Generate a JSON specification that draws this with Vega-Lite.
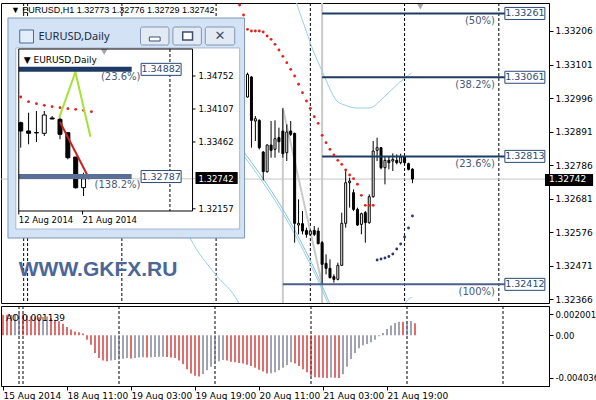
{
"$schema":"https://vega.github.io/schema/vega-lite/v6.json",
"background":"#ffffff",
"padding":{"left":0,"top":1,"right":0,"bottom":0},
"spacing":0,
"config":{
 "view":{"stroke":"#000000","strokeWidth":1},
 "axis":{"domainColor":"#000000","tickColor":"#000000","labelColor":"#000000","labelFont":"DejaVu Sans","labelFontSize":9,"grid":false,"tickSize":4,"labelPadding":2},
 "text":{"font":"DejaVu Sans","fontSize":9,"color":"#000000"}
},
"datasets":{
 "seps":[{"i":4},{"i":5},{"i":29},{"i":53},{"i":77},{"i":101},{"i":125}],
 "diag":[{"i":70,"p":1.32965},{"i":80,"p":1.32412}],
 "fib":[{"lab":"1.33261","lvl":"(50%)","p":1.33261,"i0":80},{"lab":"1.33061","lvl":"(38.2%)","p":1.33061,"i0":80},{"lab":"1.32813","lvl":"(23.6%)","p":1.32813,"i0":80},{"lab":"1.32412","lvl":"(100%)","p":1.32412,"i0":70}],
 "bands":[
  {"b":"U","i":72,"p":1.3336},{"b":"U","i":73.5,"p":1.332938},{"b":"U","i":75.5,"p":1.332217},{"b":"U","i":77.75,"p":1.331433},{"b":"U","i":80,"p":1.330806},{"b":"U","i":82,"p":1.330242},{"b":"U","i":83.75,"p":1.329866},{"b":"U","i":85.75,"p":1.329741},{"b":"U","i":88.75,"p":1.329647},{"b":"U","i":92,"p":1.329647},{"b":"U","i":95.75,"p":1.329992},{"b":"U","i":99.5,"p":1.33043},{"b":"U","i":102.75,"p":1.330744},
  {"b":"L1","i":55,"p":1.3291},{"b":"L1","i":59.5,"p":1.328362},{"b":"L1","i":64.5,"p":1.327516},{"b":"L1","i":69.5,"p":1.326576},{"b":"L1","i":74.5,"p":1.325479},{"b":"L1","i":80.25,"p":1.324006},{"b":"L1","i":83,"p":1.3232},
  {"b":"L2","i":55,"p":1.32898},{"b":"L2","i":59.5,"p":1.32824},{"b":"L2","i":64.5,"p":1.32739},{"b":"L2","i":69.5,"p":1.32645},{"b":"L2","i":74.5,"p":1.32535},{"b":"L2","i":80.25,"p":1.32388},{"b":"L2","i":82.5,"p":1.3232},
  {"b":"L0","i":44,"p":1.3262},{"b":"L0","i":46.5,"p":1.325541},{"b":"L0","i":52.75,"p":1.324444},{"b":"L0","i":58.75,"p":1.323535},{"b":"L0","i":60,"p":1.3232},
  {"b":"R","i":100,"p":1.3232},{"b":"R","i":101,"p":1.3235},{"b":"R","i":103,"p":1.32372}
 ],
 "candles":[
  {"i":61,"o":1.329991,"h":1.330754,"l":1.32997,"c":1.330701},
  {"i":62,"o":1.330618,"h":1.330649,"l":1.328403,"c":1.32926},
  {"i":63,"o":1.329239,"h":1.329396,"l":1.328612,"c":1.329312},
  {"i":64,"o":1.32926,"h":1.329291,"l":1.328351,"c":1.328403},
  {"i":65,"o":1.328267,"h":1.328299,"l":1.327379,"c":1.327651},
  {"i":66,"o":1.327651,"h":1.328508,"l":1.32762,"c":1.328487},
  {"i":67,"o":1.328487,"h":1.329239,"l":1.32809,"c":1.32832},
  {"i":68,"o":1.328351,"h":1.32926,"l":1.32809,"c":1.328685},
  {"i":69,"o":1.328717,"h":1.32903,"l":1.328246,"c":1.328591},
  {"i":70,"o":1.328925,"h":1.329636,"l":1.32809,"c":1.328215},
  {"i":71,"o":1.328246,"h":1.329134,"l":1.327985,"c":1.328894},
  {"i":72,"o":1.328925,"h":1.329239,"l":1.328769,"c":1.328821},
  {"i":73,"o":1.328852,"h":1.328873,"l":1.325426,"c":1.326032},
  {"i":74,"o":1.325979,"h":1.326784,"l":1.325687,"c":1.326032},
  {"i":75,"o":1.326021,"h":1.326418,"l":1.325687,"c":1.325791},
  {"i":76,"o":1.325812,"h":1.325896,"l":1.325582,"c":1.325687},
  {"i":77,"o":1.325687,"h":1.325844,"l":1.325635,"c":1.325791},
  {"i":78,"o":1.325812,"h":1.325948,"l":1.325635,"c":1.325687},
  {"i":79,"o":1.325791,"h":1.325896,"l":1.325373,"c":1.325394},
  {"i":80,"o":1.325426,"h":1.325478,"l":1.32412,"c":1.324747},
  {"i":81,"o":1.324778,"h":1.32506,"l":1.324433,"c":1.324621},
  {"i":82,"o":1.324621,"h":1.324903,"l":1.324308,"c":1.324329},
  {"i":83,"o":1.32436,"h":1.324433,"l":1.324172,"c":1.324277},
  {"i":84,"o":1.324277,"h":1.324799,"l":1.324245,"c":1.324715},
  {"i":85,"o":1.324715,"h":1.326366,"l":1.324694,"c":1.326032},
  {"i":86,"o":1.326032,"h":1.327672,"l":1.325896,"c":1.327306},
  {"i":87,"o":1.327306,"h":1.327463,"l":1.326523,"c":1.327358},
  {"i":88,"o":1.326993,"h":1.327097,"l":1.326418,"c":1.32647},
  {"i":89,"o":1.32647,"h":1.326523,"l":1.325948,"c":1.325979},
  {"i":90,"o":1.326,"h":1.326366,"l":1.325687,"c":1.326335},
  {"i":91,"o":1.326366,"h":1.326418,"l":1.325426,"c":1.326053},
  {"i":92,"o":1.326053,"h":1.326941,"l":1.326021,"c":1.326867},
  {"i":93,"o":1.326867,"h":1.328612,"l":1.326836,"c":1.328299},
  {"i":94,"o":1.32832,"h":1.328717,"l":1.327985,"c":1.328403},
  {"i":95,"o":1.328403,"h":1.328424,"l":1.327724,"c":1.327776},
  {"i":96,"o":1.327776,"h":1.328142,"l":1.327254,"c":1.328006},
  {"i":97,"o":1.328006,"h":1.328142,"l":1.327724,"c":1.327933},
  {"i":98,"o":1.327985,"h":1.328226,"l":1.327672,"c":1.328037},
  {"i":99,"o":1.328006,"h":1.328194,"l":1.327881,"c":1.327933},
  {"i":100,"o":1.327933,"h":1.328215,"l":1.327881,"c":1.328111},
  {"i":101,"o":1.328111,"h":1.328142,"l":1.327881,"c":1.327933},
  {"i":102,"o":1.327902,"h":1.327933,"l":1.327693,"c":1.327724},
  {"i":103,"o":1.32773,"h":1.32776,"l":1.32729,"c":1.32742}
 ],
 "sar":[
  {"i":59,"p":1.332875,"s":"dn"},{"i":60,"p":1.332561,"s":"dn"},{"i":61,"p":1.332113,"s":"dn"},{"i":62,"p":1.33206,"s":"dn"},{"i":63,"p":1.33206,"s":"dn"},{"i":64,"p":1.33206,"s":"dn"},{"i":65,"p":1.332029,"s":"dn"},{"i":66,"p":1.331903,"s":"dn"},{"i":67,"p":1.3318,"s":"dn"},{"i":68,"p":1.331643,"s":"dn"},{"i":69,"p":1.331465,"s":"dn"},{"i":70,"p":1.331267,"s":"dn"},{"i":71,"p":1.331067,"s":"dn"},{"i":72,"p":1.33086,"s":"dn"},{"i":73,"p":1.33065,"s":"dn"},{"i":74,"p":1.33039,"s":"dn"},{"i":75,"p":1.330126,"s":"dn"},{"i":76,"p":1.329866,"s":"dn"},{"i":77,"p":1.329637,"s":"dn"},{"i":78,"p":1.329374,"s":"dn"},{"i":79,"p":1.329167,"s":"dn"},{"i":80,"p":1.328791,"s":"dn"},{"i":81,"p":1.328559,"s":"dn"},{"i":82,"p":1.328352,"s":"dn"},{"i":83,"p":1.328174,"s":"dn"},{"i":84,"p":1.328008,"s":"dn"},{"i":85,"p":1.327882,"s":"dn"},{"i":86,"p":1.327704,"s":"dn"},{"i":87,"p":1.327547,"s":"dn"},{"i":88,"p":1.327431,"s":"dn"},{"i":89,"p":1.327256,"s":"dn"},{"i":90,"p":1.326911,"s":"dn"},{"i":91,"p":1.326597,"s":"dn"},{"i":92,"p":1.326597,"s":"dn"},{"i":93,"p":1.326597,"s":"dn"},
  {"i":94,"p":1.324883,"s":"up"},{"i":95,"p":1.324914,"s":"up"},{"i":96,"p":1.324946,"s":"up"},{"i":97,"p":1.324993,"s":"up"},{"i":98,"p":1.325071,"s":"up"},{"i":99,"p":1.325228,"s":"up"},{"i":100,"p":1.325385,"s":"up"},{"i":101,"p":1.325604,"s":"up"},{"i":102,"p":1.325886,"s":"up"},{"i":103,"p":1.326262,"s":"up"}
 ],
 "ao":[
  {"i":0,"v":0.00194,"d":"r"},{"i":1,"v":0.00192,"d":"r"},{"i":2,"v":0.0019,"d":"r"},{"i":3,"v":0.00195,"d":"g"},{"i":4,"v":0.002001,"d":"g"},{"i":5,"v":0.00197,"d":"r"},{"i":6,"v":0.00186,"d":"r"},{"i":7,"v":0.0018,"d":"r"},{"i":8,"v":0.00174,"d":"r"},{"i":9,"v":0.0017,"d":"r"},{"i":10,"v":0.00173,"d":"g"},{"i":11,"v":0.00176,"d":"g"},{"i":12,"v":0.0016,"d":"r"},{"i":13,"v":0.00147,"d":"r"},{"i":14,"v":0.00131,"d":"r"},{"i":15,"v":0.00109,"d":"r"},{"i":16,"v":0.00078,"d":"r"},{"i":17,"v":0.00053,"d":"r"},{"i":18,"v":0.00034,"d":"r"},{"i":19,"v":0.00028,"d":"r"},{"i":20,"v":0.00016,"d":"r"},
  {"i":21,"v":-0.00043,"d":"r"},{"i":22,"v":-0.00089,"d":"r"},{"i":23,"v":-0.00167,"d":"r"},{"i":24,"v":-0.00216,"d":"r"},{"i":25,"v":-0.00239,"d":"r"},{"i":26,"v":-0.00245,"d":"r"},{"i":27,"v":-0.00239,"d":"g"},{"i":28,"v":-0.00233,"d":"g"},{"i":29,"v":-0.00228,"d":"g"},{"i":30,"v":-0.00222,"d":"g"},{"i":31,"v":-0.00216,"d":"g"},{"i":32,"v":-0.00219,"d":"r"},{"i":33,"v":-0.00216,"d":"g"},{"i":34,"v":-0.0021,"d":"g"},{"i":35,"v":-0.00207,"d":"g"},{"i":36,"v":-0.0021,"d":"r"},{"i":37,"v":-0.00207,"d":"g"},{"i":38,"v":-0.00205,"d":"g"},{"i":39,"v":-0.00204,"d":"g"},{"i":40,"v":-0.00202,"d":"g"},
  {"i":41,"v":-0.00205,"d":"r"},{"i":42,"v":-0.0021,"d":"r"},{"i":43,"v":-0.00216,"d":"r"},{"i":44,"v":-0.00239,"d":"r"},{"i":45,"v":-0.00274,"d":"r"},{"i":46,"v":-0.0032,"d":"r"},{"i":47,"v":-0.0036,"d":"r"},{"i":48,"v":-0.00383,"d":"r"},{"i":49,"v":-0.00389,"d":"r"},{"i":50,"v":-0.00366,"d":"g"},{"i":51,"v":-0.00331,"d":"g"},{"i":52,"v":-0.00297,"d":"g"},{"i":53,"v":-0.00268,"d":"g"},{"i":54,"v":-0.00245,"d":"g"},{"i":55,"v":-0.00233,"d":"g"},{"i":56,"v":-0.00239,"d":"r"},{"i":57,"v":-0.00251,"d":"r"},{"i":58,"v":-0.00256,"d":"r"},{"i":59,"v":-0.00262,"d":"r"},{"i":60,"v":-0.00268,"d":"r"},
  {"i":61,"v":-0.00279,"d":"r"},{"i":62,"v":-0.00291,"d":"r"},{"i":63,"v":-0.00308,"d":"r"},{"i":64,"v":-0.00325,"d":"r"},{"i":65,"v":-0.00343,"d":"r"},{"i":66,"v":-0.0036,"d":"r"},{"i":67,"v":-0.00358,"d":"g"},{"i":68,"v":-0.00349,"d":"g"},{"i":69,"v":-0.00331,"d":"g"},{"i":70,"v":-0.00308,"d":"g"},{"i":71,"v":-0.00282,"d":"g"},{"i":72,"v":-0.00256,"d":"g"},{"i":73,"v":-0.00268,"d":"r"},{"i":74,"v":-0.00291,"d":"r"},{"i":75,"v":-0.0032,"d":"r"},{"i":76,"v":-0.00349,"d":"r"},{"i":77,"v":-0.00383,"d":"r"},{"i":78,"v":-0.00397,"d":"r"},{"i":79,"v":-0.004,"d":"r"},{"i":80,"v":-0.00402,"d":"r"},
  {"i":81,"v":-0.004036,"d":"r"},{"i":82,"v":-0.004,"d":"g"},{"i":83,"v":-0.00401,"d":"r"},{"i":84,"v":-0.00403,"d":"r"},{"i":85,"v":-0.00369,"d":"g"},{"i":86,"v":-0.00297,"d":"g"},{"i":87,"v":-0.00225,"d":"g"},{"i":88,"v":-0.00167,"d":"g"},{"i":89,"v":-0.00124,"d":"g"},{"i":90,"v":-0.00095,"d":"g"},{"i":91,"v":-0.00084,"d":"g"},{"i":92,"v":-0.00066,"d":"g"},{"i":93,"v":-0.00043,"d":"g"},{"i":94,"v":-0.00009,"d":"g"},{"i":95,"v":0.00022,"d":"g"},{"i":96,"v":0.00059,"d":"g"},{"i":97,"v":0.00091,"d":"g"},{"i":98,"v":0.00116,"d":"g"},{"i":99,"v":0.00128,"d":"g"},{"i":100,"v":0.00126,"d":"r"},{"i":101,"v":0.00131,"d":"g"},{"i":102,"v":0.00135,"d":"g"},{"i":103,"v":0.001139,"d":"r"}
 ],
 "icandles":[
  {"j":0,"o":1.338393,"h":1.3386,"l":1.333506,"c":1.33677},
  {"j":1,"o":1.33677,"h":1.340347,"l":1.334171,"c":1.336321},
  {"j":2,"o":1.336477,"h":1.340679,"l":1.33462,"c":1.336399},
  {"j":3,"o":1.336321,"h":1.340679,"l":1.335793,"c":1.339898},
  {"j":4,"o":1.339311,"h":1.339702,"l":1.339057,"c":1.339116},
  {"j":5,"o":1.339057,"h":1.33937,"l":1.335148,"c":1.336125},
  {"j":6,"o":1.336438,"h":1.336438,"l":1.331239,"c":1.331552},
  {"j":7,"o":1.331689,"h":1.331689,"l":1.325493,"c":1.325689},
  {"j":8,"o":1.325689,"h":1.32862,"l":1.324066,"c":1.32742}
 ],
 "isar":[{"j":0,"p":1.343416},{"j":1,"p":1.342497},{"j":2,"p":1.342106},{"j":3,"p":1.341793},{"j":4,"p":1.34152},{"j":5,"p":1.341324},{"j":6,"p":1.341129},{"j":7,"p":1.341012},{"j":8,"p":1.340816},{"j":9,"p":1.340542}],
 "ifib":[{"lab":"1.34882","lvl":"(23.6%)","p":1.34882},{"lab":"1.32787","lvl":"(138.2%)","p":1.32787}],
 "igreen":[{"j":4.9,"p":1.3394},{"j":6.96,"p":1.3483},{"j":8.875,"p":1.335656}],
 "ired":[{"j":5,"p":1.338529},{"j":8.75,"p":1.32733}],
 "iaxis":[{"p":1.34752,"t":"1.34752"},{"p":1.34107,"t":"1.34107"},{"p":1.33462,"t":"1.33462"},{"p":1.32157,"t":"1.32157"}],
 "idates":[{"j":-0.25,"t":"12 Aug 2014"},{"j":7.875,"t":"21 Aug 2014"}]
},
"vconcat":[
 {"width":548,"height":300,
  "resolve":{"scale":{"x":"independent","y":"independent"}},
  "layer":[
   {"layer":[
    {"data":{"name":"seps"},"mark":{"type":"rule","strokeDash":[3,2],"color":"#000000","strokeWidth":1},"encoding":{"x":{"field":"i","type":"quantitative","scale":{"domain":[-0.5,136.5],"nice":false,"zero":false},"axis":null}}},
    {"data":{"values":[{}]},"mark":{"type":"rule","color":"#c6c6c6","strokeWidth":1},"encoding":{"y":{"datum":1.32742,"type":"quantitative","scale":{"domain":[1.3235355,1.3329375],"nice":false,"zero":false},"axis":{"orient":"right","values":[1.33206,1.33101,1.32996,1.32891,1.32786,1.32681,1.32576,1.32471,1.32366],"format":".5f","title":null,"labelOverlap":false,"labelFlush":false,"labelBound":false}}}},
    {"data":{"values":[{}]},"mark":{"type":"rule","color":"#cacaca","strokeWidth":2},"encoding":{"x":{"datum":80,"type":"quantitative","scale":{"domain":[-0.5,136.5],"nice":false,"zero":false},"axis":null}}},
    {"data":{"values":[{}]},"mark":{"type":"rule","color":"#cacaca","strokeWidth":2},"encoding":{"x":{"datum":70,"type":"quantitative","scale":{"domain":[-0.5,136.5],"nice":false,"zero":false},"axis":null},"y":{"datum":1.32965,"type":"quantitative","scale":{"domain":[1.3235355,1.3329375],"nice":false,"zero":false},"axis":{"orient":"right","values":[1.33206,1.33101,1.32996,1.32891,1.32786,1.32681,1.32576,1.32471,1.32366],"format":".5f","title":null,"labelOverlap":false,"labelFlush":false,"labelBound":false}},"y2":{"datum":1.3235355}}},
    {"data":{"name":"diag"},"mark":{"type":"line","color":"#cacaca","strokeWidth":2},"encoding":{"x":{"field":"i","type":"quantitative","scale":{"domain":[-0.5,136.5],"nice":false,"zero":false},"axis":null},"y":{"field":"p","type":"quantitative","scale":{"domain":[1.3235355,1.3329375],"nice":false,"zero":false},"axis":{"orient":"right","values":[1.33206,1.33101,1.32996,1.32891,1.32786,1.32681,1.32576,1.32471,1.32366],"format":".5f","title":null,"labelOverlap":false,"labelFlush":false,"labelBound":false}}}},
    {"data":{"name":"bands"},"mark":{"type":"line","strokeWidth":1,"clip":true,"interpolate":"monotone"},"encoding":{"x":{"field":"i","type":"quantitative","scale":{"domain":[-0.5,136.5],"nice":false,"zero":false},"axis":null},"y":{"field":"p","type":"quantitative","scale":{"domain":[1.3235355,1.3329375],"nice":false,"zero":false},"axis":{"orient":"right","values":[1.33206,1.33101,1.32996,1.32891,1.32786,1.32681,1.32576,1.32471,1.32366],"format":".5f","title":null,"labelOverlap":false,"labelFlush":false,"labelBound":false}},"detail":{"field":"b","type":"nominal"},"color":{"condition":{"test":"datum.b=='L1'","value":"#86c0dc"},"value":"#97cfe7"}}},
    {"data":{"name":"candles"},"mark":{"type":"rule","color":"#000000","strokeWidth":1},"encoding":{"x":{"field":"i","type":"quantitative","scale":{"domain":[-0.5,136.5],"nice":false,"zero":false},"axis":null},"y":{"field":"l","type":"quantitative","scale":{"domain":[1.3235355,1.3329375],"nice":false,"zero":false},"axis":{"orient":"right","values":[1.33206,1.33101,1.32996,1.32891,1.32786,1.32681,1.32576,1.32471,1.32366],"format":".5f","title":null,"labelOverlap":false,"labelFlush":false,"labelBound":false}},"y2":{"field":"h"}}},
    {"data":{"name":"candles"},"mark":{"type":"bar","width":2,"stroke":"#000000","strokeWidth":1},"encoding":{"x":{"field":"i","type":"quantitative","scale":{"domain":[-0.5,136.5],"nice":false,"zero":false},"axis":null},"y":{"field":"o","type":"quantitative","scale":{"domain":[1.3235355,1.3329375],"nice":false,"zero":false},"axis":{"orient":"right","values":[1.33206,1.33101,1.32996,1.32891,1.32786,1.32681,1.32576,1.32471,1.32366],"format":".5f","title":null,"labelOverlap":false,"labelFlush":false,"labelBound":false}},"y2":{"field":"c"},"fill":{"condition":{"test":"datum.c >= datum.o","value":"#ffffff"},"value":"#000000"}}},
    {"data":{"name":"fib"},"mark":{"type":"rule","strokeWidth":2},"encoding":{"x":{"field":"i0","type":"quantitative","scale":{"domain":[-0.5,136.5],"nice":false,"zero":false},"axis":null},"x2":{"datum":126.75},"y":{"field":"p","type":"quantitative","scale":{"domain":[1.3235355,1.3329375],"nice":false,"zero":false},"axis":{"orient":"right","values":[1.33206,1.33101,1.32996,1.32891,1.32786,1.32681,1.32576,1.32471,1.32366],"format":".5f","title":null,"labelOverlap":false,"labelFlush":false,"labelBound":false}},"color":{"condition":{"test":"datum.lab=='1.32412'","value":"#4d5f8c"},"value":"#1d3c63"}}},
    {"data":{"name":"fib"},"mark":{"type":"point","shape":"M-1,-0.3H1V0.3H-1Z","size":1600,"filled":true,"fill":"#ffffff","stroke":"#2b4a75","strokeWidth":1,"opacity":1},"encoding":{"x":{"datum":131.625,"type":"quantitative","scale":{"domain":[-0.5,136.5],"nice":false,"zero":false},"axis":null},"y":{"field":"p","type":"quantitative","scale":{"domain":[1.3235355,1.3329375],"nice":false,"zero":false},"axis":{"orient":"right","values":[1.33206,1.33101,1.32996,1.32891,1.32786,1.32681,1.32576,1.32471,1.32366],"format":".5f","title":null,"labelOverlap":false,"labelFlush":false,"labelBound":false}}}},
    {"data":{"name":"fib"},"mark":{"type":"text","fontSize":9.5,"color":"#2b4a75","align":"center","baseline":"middle"},"encoding":{"x":{"datum":131.625,"type":"quantitative","scale":{"domain":[-0.5,136.5],"nice":false,"zero":false},"axis":null},"y":{"field":"p","type":"quantitative","scale":{"domain":[1.3235355,1.3329375],"nice":false,"zero":false},"axis":{"orient":"right","values":[1.33206,1.33101,1.32996,1.32891,1.32786,1.32681,1.32576,1.32471,1.32366],"format":".5f","title":null,"labelOverlap":false,"labelFlush":false,"labelBound":false}},"text":{"field":"lab"}}},
    {"data":{"name":"fib"},"mark":{"type":"text","fontSize":10,"color":"#4a5878","align":"right","baseline":"middle","dy":8},"encoding":{"x":{"datum":124,"type":"quantitative","scale":{"domain":[-0.5,136.5],"nice":false,"zero":false},"axis":null},"y":{"field":"p","type":"quantitative","scale":{"domain":[1.3235355,1.3329375],"nice":false,"zero":false},"axis":{"orient":"right","values":[1.33206,1.33101,1.32996,1.32891,1.32786,1.32681,1.32576,1.32471,1.32366],"format":".5f","title":null,"labelOverlap":false,"labelFlush":false,"labelBound":false}},"text":{"field":"lvl"}}},
    {"data":{"name":"sar"},"mark":{"type":"point","filled":true,"size":8,"opacity":1},"encoding":{"x":{"field":"i","type":"quantitative","scale":{"domain":[-0.5,136.5],"nice":false,"zero":false},"axis":null},"y":{"field":"p","type":"quantitative","scale":{"domain":[1.3235355,1.3329375],"nice":false,"zero":false},"axis":{"orient":"right","values":[1.33206,1.33101,1.32996,1.32891,1.32786,1.32681,1.32576,1.32471,1.32366],"format":".5f","title":null,"labelOverlap":false,"labelFlush":false,"labelBound":false}},"color":{"condition":{"test":"datum.s=='up'","value":"#2b3868"},"value":"#e3211b"}}},
    {"data":{"values":[{}]},"mark":{"type":"text","text":"WWW.GKFX.RU","font":"Liberation Sans","fontSize":21,"fontWeight":"bold","color":"#4d6699","align":"left","baseline":"alphabetic"},"encoding":{"x":{"datum":2.75,"type":"quantitative","scale":{"domain":[-0.5,136.5],"nice":false,"zero":false},"axis":null},"y":{"datum":1.324382,"type":"quantitative","scale":{"domain":[1.3235355,1.3329375],"nice":false,"zero":false},"axis":{"orient":"right","values":[1.33206,1.33101,1.32996,1.32891,1.32786,1.32681,1.32576,1.32471,1.32366],"format":".5f","title":null,"labelOverlap":false,"labelFlush":false,"labelBound":false}}}},
    {"data":{"values":[{}]},"mark":{"type":"text","text":"▼ EURUSD,H1  1.32773 1.32776 1.32729 1.32742","font":"Liberation Sans","fontSize":9,"align":"left","baseline":"middle"},"encoding":{"x":{"datum":0.75,"type":"quantitative","scale":{"domain":[-0.5,136.5],"nice":false,"zero":false},"axis":null},"y":{"datum":1.332718,"type":"quantitative","scale":{"domain":[1.3235355,1.3329375],"nice":false,"zero":false},"axis":{"orient":"right","values":[1.33206,1.33101,1.32996,1.32891,1.32786,1.32681,1.32576,1.32471,1.32366],"format":".5f","title":null,"labelOverlap":false,"labelFlush":false,"labelBound":false}}}},
    {"data":{"values":[{}]},"mark":{"type":"point","shape":"triangle-down","filled":true,"color":"#a8a8a8","size":40,"opacity":1},"encoding":{"x":{"datum":105,"type":"quantitative","scale":{"domain":[-0.5,136.5],"nice":false,"zero":false},"axis":null},"y":{"datum":1.332818,"type":"quantitative","scale":{"domain":[1.3235355,1.3329375],"nice":false,"zero":false},"axis":{"orient":"right","values":[1.33206,1.33101,1.32996,1.32891,1.32786,1.32681,1.32576,1.32471,1.32366],"format":".5f","title":null,"labelOverlap":false,"labelFlush":false,"labelBound":false}}}},
    {"data":{"values":[{}]},"mark":{"type":"rect","color":"#000000"},"encoding":{"x":{"datum":136.75,"type":"quantitative","scale":{"domain":[-0.5,136.5],"nice":false,"zero":false},"axis":null},"x2":{"datum":149},"y":{"datum":1.32758,"type":"quantitative","scale":{"domain":[1.3235355,1.3329375],"nice":false,"zero":false},"axis":{"orient":"right","values":[1.33206,1.33101,1.32996,1.32891,1.32786,1.32681,1.32576,1.32471,1.32366],"format":".5f","title":null,"labelOverlap":false,"labelFlush":false,"labelBound":false}},"y2":{"datum":1.3272}}},
    {"data":{"values":[{}]},"mark":{"type":"text","text":"1.32742","color":"#ffffff","fontSize":9,"align":"left","baseline":"middle"},"encoding":{"x":{"datum":137.75,"type":"quantitative","scale":{"domain":[-0.5,136.5],"nice":false,"zero":false},"axis":null},"y":{"datum":1.32742,"type":"quantitative","scale":{"domain":[1.3235355,1.3329375],"nice":false,"zero":false},"axis":{"orient":"right","values":[1.33206,1.33101,1.32996,1.32891,1.32786,1.32681,1.32576,1.32471,1.32366],"format":".5f","title":null,"labelOverlap":false,"labelFlush":false,"labelBound":false}}}}
   ]},
   {"layer":[
    {"data":{"values":[{}]},"mark":{"type":"rect","fill":"#d3e2f4","stroke":"#7c95b6","strokeWidth":1},"encoding":{"x":{"datum":-1.625,"type":"quantitative","scale":{"domain":[-1.875,66.625],"nice":false,"zero":false},"axis":null},"x2":{"datum":28.5},"y":{"datum":1.358856,"type":"quantitative","scale":{"domain":[1.303153,1.361788],"nice":false,"zero":false},"axis":null},"y2":{"datum":1.315857}}},
    {"data":{"values":[{}]},"mark":{"type":"rect","fill":"#ffffff","stroke":"#a7b8d0","strokeWidth":1},"encoding":{"x":{"datum":-0.625,"type":"quantitative","scale":{"domain":[-1.875,66.625],"nice":false,"zero":false},"axis":null},"x2":{"datum":27.875},"y":{"datum":1.353,"type":"quantitative","scale":{"domain":[1.303153,1.361788],"nice":false,"zero":false},"axis":null},"y2":{"datum":1.317616}}},
    {"data":{"values":[{}]},"mark":{"type":"rect","fill":"#e4eefa","stroke":"#4a6a9a","strokeWidth":1},"encoding":{"x":{"datum":-0.125,"type":"quantitative","scale":{"domain":[-1.875,66.625],"nice":false,"zero":false},"axis":null},"x2":{"datum":1.625},"y":{"datum":1.356511,"type":"quantitative","scale":{"domain":[1.303153,1.361788],"nice":false,"zero":false},"axis":null},"y2":{"datum":1.35397}}},
    {"data":{"values":[{}]},"mark":{"type":"text","text":"EURUSD,Daily","font":"Noto Sans","fontSize":11,"color":"#1a2b45","align":"left","baseline":"middle"},"encoding":{"x":{"datum":2.25,"type":"quantitative","scale":{"domain":[-1.875,66.625],"nice":false,"zero":false},"axis":null},"y":{"datum":1.355143,"type":"quantitative","scale":{"domain":[1.303153,1.361788],"nice":false,"zero":false},"axis":null}}},
    {"data":{"values":[{}]},"mark":{"type":"rect","fill":"#e2eaf4","stroke":"#8294b0","strokeWidth":1,"cornerRadius":2},"encoding":{"x":{"datum":15.25,"type":"quantitative","scale":{"domain":[-1.875,66.625],"nice":false,"zero":false},"axis":null},"x2":{"datum":18.875},"y":{"datum":1.357097,"type":"quantitative","scale":{"domain":[1.303153,1.361788],"nice":false,"zero":false},"axis":null},"y2":{"datum":1.353579}}},
    {"data":{"values":[{}]},"mark":{"type":"rect","fill":"#e2eaf4","stroke":"#8294b0","strokeWidth":1,"cornerRadius":2},"encoding":{"x":{"datum":19.375,"type":"quantitative","scale":{"domain":[-1.875,66.625],"nice":false,"zero":false},"axis":null},"x2":{"datum":23},"y":{"datum":1.357097,"type":"quantitative","scale":{"domain":[1.303153,1.361788],"nice":false,"zero":false},"axis":null},"y2":{"datum":1.353579}}},
    {"data":{"values":[{}]},"mark":{"type":"rect","fill":"#e2eaf4","stroke":"#8294b0","strokeWidth":1,"cornerRadius":2},"encoding":{"x":{"datum":23.5,"type":"quantitative","scale":{"domain":[-1.875,66.625],"nice":false,"zero":false},"axis":null},"x2":{"datum":27.25},"y":{"datum":1.357097,"type":"quantitative","scale":{"domain":[1.303153,1.361788],"nice":false,"zero":false},"axis":null},"y2":{"datum":1.353579}}},
    {"data":{"values":[{}]},"mark":{"type":"rect","fill":"#ffffff","stroke":"#3d4f6e","strokeWidth":1},"encoding":{"x":{"datum":16.375,"type":"quantitative","scale":{"domain":[-1.875,66.625],"nice":false,"zero":false},"axis":null},"x2":{"datum":17.75},"y":{"datum":1.355143,"type":"quantitative","scale":{"domain":[1.303153,1.361788],"nice":false,"zero":false},"axis":null},"y2":{"datum":1.354361}}},
    {"data":{"values":[{}]},"mark":{"type":"rect","fill":"#ffffff","stroke":"#3d4f6e","strokeWidth":1.5},"encoding":{"x":{"datum":20.625,"type":"quantitative","scale":{"domain":[-1.875,66.625],"nice":false,"zero":false},"axis":null},"x2":{"datum":21.875},"y":{"datum":1.35612,"type":"quantitative","scale":{"domain":[1.303153,1.361788],"nice":false,"zero":false},"axis":null},"y2":{"datum":1.354556}}},
    {"data":{"values":[{}]},"mark":{"type":"text","text":"✕","fontSize":13,"color":"#3d4f6e","align":"center","baseline":"middle"},"encoding":{"x":{"datum":25.375,"type":"quantitative","scale":{"domain":[-1.875,66.625],"nice":false,"zero":false},"axis":null},"y":{"datum":1.355338,"type":"quantitative","scale":{"domain":[1.303153,1.361788],"nice":false,"zero":false},"axis":null}}},
    {"data":{"values":[{}]},"mark":{"type":"rule","color":"#c6c6c6","strokeWidth":1},"encoding":{"x":{"datum":-0.25,"type":"quantitative","scale":{"domain":[-1.875,66.625],"nice":false,"zero":false},"axis":null},"x2":{"datum":22.25},"y":{"datum":1.32742,"type":"quantitative","scale":{"domain":[1.303153,1.361788],"nice":false,"zero":false},"axis":null}}},
    {"data":{"values":[{}]},"mark":{"type":"rule","color":"#000000","strokeWidth":1,"strokeDash":[3,2]},"encoding":{"x":{"datum":19,"type":"quantitative","scale":{"domain":[-1.875,66.625],"nice":false,"zero":false},"axis":null},"y":{"datum":1.352797,"type":"quantitative","scale":{"domain":[1.303153,1.361788],"nice":false,"zero":false},"axis":null},"y2":{"datum":1.321134}}},
    {"data":{"name":"isar"},"mark":{"type":"point","filled":true,"size":8,"opacity":1,"color":"#e3211b"},"encoding":{"x":{"field":"j","type":"quantitative","scale":{"domain":[-1.875,66.625],"nice":false,"zero":false},"axis":null},"y":{"field":"p","type":"quantitative","scale":{"domain":[1.303153,1.361788],"nice":false,"zero":false},"axis":null}}},
    {"data":{"name":"igreen"},"mark":{"type":"line","color":"#a4e234","strokeWidth":2},"encoding":{"x":{"field":"j","type":"quantitative","scale":{"domain":[-1.875,66.625],"nice":false,"zero":false},"axis":null},"y":{"field":"p","type":"quantitative","scale":{"domain":[1.303153,1.361788],"nice":false,"zero":false},"axis":null}}},
    {"data":{"name":"icandles"},"mark":{"type":"rule","color":"#000000","strokeWidth":1},"encoding":{"x":{"field":"j","type":"quantitative","scale":{"domain":[-1.875,66.625],"nice":false,"zero":false},"axis":null},"y":{"field":"l","type":"quantitative","scale":{"domain":[1.303153,1.361788],"nice":false,"zero":false},"axis":null},"y2":{"field":"h"}}},
    {"data":{"name":"icandles"},"mark":{"type":"bar","width":4,"stroke":"#000000","strokeWidth":1},"encoding":{"x":{"field":"j","type":"quantitative","scale":{"domain":[-1.875,66.625],"nice":false,"zero":false},"axis":null},"y":{"field":"o","type":"quantitative","scale":{"domain":[1.303153,1.361788],"nice":false,"zero":false},"axis":null},"y2":{"field":"c"},"fill":{"condition":{"test":"datum.c >= datum.o","value":"#ffffff"},"value":"#000000"}}},
    {"data":{"name":"ired"},"mark":{"type":"line","color":"#cc1f1f","strokeWidth":2},"encoding":{"x":{"field":"j","type":"quantitative","scale":{"domain":[-1.875,66.625],"nice":false,"zero":false},"axis":null},"y":{"field":"p","type":"quantitative","scale":{"domain":[1.303153,1.361788],"nice":false,"zero":false},"axis":null}}},
    {"data":{"name":"ifib"},"mark":{"type":"rule","strokeWidth":5},"encoding":{"x":{"datum":-0.25,"type":"quantitative","scale":{"domain":[-1.875,66.625],"nice":false,"zero":false},"axis":null},"x2":{"datum":14.125},"y":{"field":"p","type":"quantitative","scale":{"domain":[1.303153,1.361788],"nice":false,"zero":false},"axis":null},"color":{"condition":{"test":"datum.lab=='1.32787'","value":"#5b6e98"},"value":"#1e3b66"}}},
    {"data":{"name":"ifib"},"mark":{"type":"point","shape":"M-1,-0.3H1V0.3H-1Z","size":1600,"filled":true,"fill":"#ffffff","stroke":"#2b4a75","strokeWidth":1,"opacity":1},"encoding":{"x":{"datum":17.875,"type":"quantitative","scale":{"domain":[-1.875,66.625],"nice":false,"zero":false},"axis":null},"y":{"field":"p","type":"quantitative","scale":{"domain":[1.303153,1.361788],"nice":false,"zero":false},"axis":null}}},
    {"data":{"name":"ifib"},"mark":{"type":"text","fontSize":9.5,"color":"#2b4a75","align":"center","baseline":"middle"},"encoding":{"x":{"datum":17.875,"type":"quantitative","scale":{"domain":[-1.875,66.625],"nice":false,"zero":false},"axis":null},"y":{"field":"p","type":"quantitative","scale":{"domain":[1.303153,1.361788],"nice":false,"zero":false},"axis":null},"text":{"field":"lab"}}},
    {"data":{"name":"ifib"},"mark":{"type":"text","fontSize":10,"color":"#4a5878","align":"right","baseline":"middle","dy":8},"encoding":{"x":{"datum":15.25,"type":"quantitative","scale":{"domain":[-1.875,66.625],"nice":false,"zero":false},"axis":null},"y":{"field":"p","type":"quantitative","scale":{"domain":[1.303153,1.361788],"nice":false,"zero":false},"axis":null},"text":{"field":"lvl"}}},
    {"data":{"name":"iaxis"},"mark":{"type":"rule","color":"#000000","strokeWidth":1},"encoding":{"x":{"datum":21.875,"type":"quantitative","scale":{"domain":[-1.875,66.625],"nice":false,"zero":false},"axis":null},"x2":{"datum":22.25},"y":{"field":"p","type":"quantitative","scale":{"domain":[1.303153,1.361788],"nice":false,"zero":false},"axis":null}}},
    {"data":{"name":"iaxis"},"mark":{"type":"text","fontSize":8.5,"align":"left","baseline":"middle"},"encoding":{"x":{"datum":22.625,"type":"quantitative","scale":{"domain":[-1.875,66.625],"nice":false,"zero":false},"axis":null},"y":{"field":"p","type":"quantitative","scale":{"domain":[1.303153,1.361788],"nice":false,"zero":false},"axis":null},"text":{"field":"t"}}},
    {"data":{"values":[{}]},"mark":{"type":"rect","color":"#000000"},"encoding":{"x":{"datum":22.25,"type":"quantitative","scale":{"domain":[-1.875,66.625],"nice":false,"zero":false},"axis":null},"x2":{"datum":27.625},"y":{"datum":1.328757,"type":"quantitative","scale":{"domain":[1.303153,1.361788],"nice":false,"zero":false},"axis":null},"y2":{"datum":1.326411}}},
    {"data":{"values":[{}]},"mark":{"type":"text","text":"1.32742","color":"#ffffff","fontSize":8.5,"align":"left","baseline":"middle"},"encoding":{"x":{"datum":22.625,"type":"quantitative","scale":{"domain":[-1.875,66.625],"nice":false,"zero":false},"axis":null},"y":{"datum":1.32742,"type":"quantitative","scale":{"domain":[1.303153,1.361788],"nice":false,"zero":false},"axis":null}}},
    {"data":{"name":"idates"},"mark":{"type":"rule","color":"#000000","strokeWidth":1},"encoding":{"x":{"field":"j","type":"quantitative","scale":{"domain":[-1.875,66.625],"nice":false,"zero":false},"axis":null},"y":{"datum":1.321134,"type":"quantitative","scale":{"domain":[1.303153,1.361788],"nice":false,"zero":false},"axis":null},"y2":{"datum":1.32045}}},
    {"data":{"name":"idates"},"mark":{"type":"text","fontSize":8.5,"align":"left","baseline":"middle"},"encoding":{"x":{"field":"j","type":"quantitative","scale":{"domain":[-1.875,66.625],"nice":false,"zero":false},"axis":null},"y":{"datum":1.319375,"type":"quantitative","scale":{"domain":[1.303153,1.361788],"nice":false,"zero":false},"axis":null},"text":{"field":"t"}}},
    {"data":{"values":[{}]},"mark":{"type":"text","text":"▼ EURUSD,Daily","fontSize":9,"align":"left","baseline":"middle"},"encoding":{"x":{"datum":0.375,"type":"quantitative","scale":{"domain":[-1.875,66.625],"nice":false,"zero":false},"axis":null},"y":{"datum":1.350647,"type":"quantitative","scale":{"domain":[1.303153,1.361788],"nice":false,"zero":false},"axis":null}}},
    {"data":{"values":[{}]},"mark":{"type":"point","shape":"triangle-down","filled":true,"color":"#a8a8a8","size":45,"opacity":1},"encoding":{"x":{"datum":10.625,"type":"quantitative","scale":{"domain":[-1.875,66.625],"nice":false,"zero":false},"axis":null},"y":{"datum":1.352211,"type":"quantitative","scale":{"domain":[1.303153,1.361788],"nice":false,"zero":false},"axis":null}}},
    {"data":{"values":[{}]},"mark":{"type":"rect","fill":"transparent","stroke":"#000000","strokeWidth":1},"encoding":{"x":{"datum":-0.25,"type":"quantitative","scale":{"domain":[-1.875,66.625],"nice":false,"zero":false},"axis":null},"x2":{"datum":21.875},"y":{"datum":1.352797,"type":"quantitative","scale":{"domain":[1.303153,1.361788],"nice":false,"zero":false},"axis":null},"y2":{"datum":1.321134}}}
   ]}
  ]
 },
 {"width":548,"height":80,
  "layer":[
   {"data":{"name":"seps"},"mark":{"type":"rule","strokeDash":[3,2],"color":"#000000","strokeWidth":1},"encoding":{"x":{"field":"i","type":"quantitative","scale":{"domain":[-0.5,136.5],"nice":false,"zero":false},"axis":{"values":[0,16,32,48,64,80,96],"labelExpr":"datum.value==0?'15 Aug 2014':datum.value==16?'18 Aug 11:00':datum.value==32?'19 Aug 03:00':datum.value==48?'19 Aug 19:00':datum.value==64?'20 Aug 11:00':datum.value==80?'21 Aug 03:00':'21 Aug 19:00'","labelAlign":"left","labelFlush":false,"labelOverlap":false,"labelBound":false,"labelPadding":1,"tickSize":4,"title":null}}}},
   {"data":{"name":"ao"},"mark":{"type":"rule","strokeWidth":1.3},"encoding":{"x":{"field":"i","type":"quantitative","scale":{"domain":[-0.5,136.5],"nice":false,"zero":false},"axis":{"values":[0,16,32,48,64,80,96],"labelExpr":"datum.value==0?'15 Aug 2014':datum.value==16?'18 Aug 11:00':datum.value==32?'19 Aug 03:00':datum.value==48?'19 Aug 19:00':datum.value==64?'20 Aug 11:00':datum.value==80?'21 Aug 03:00':'21 Aug 19:00'","labelAlign":"left","labelFlush":false,"labelOverlap":false,"labelBound":false,"labelPadding":1,"tickSize":4,"title":null}},"y":{"field":"v","type":"quantitative","scale":{"domain":[-0.004791,0.002756],"nice":false,"zero":false},"axis":{"orient":"right","values":[0.002001,0,-0.004036],"labelExpr":"datum.value==0?'0.00':datum.value>0?'0.002001':'-0.004036'","title":null,"labelOverlap":false,"labelFlush":false,"labelBound":false,"labelFontSize":8.5}},"y2":{"datum":0},"color":{"condition":{"test":"datum.d=='r'","value":"#d02020"},"value":"#6c7386"}}},
   {"data":{"values":[{}]},"mark":{"type":"text","text":"AO 0.001139","fontSize":9,"align":"left","baseline":"middle"},"encoding":{"x":{"datum":0.75,"type":"quantitative","scale":{"domain":[-0.5,136.5],"nice":false,"zero":false},"axis":{"values":[0,16,32,48,64,80,96],"labelExpr":"datum.value==0?'15 Aug 2014':datum.value==16?'18 Aug 11:00':datum.value==32?'19 Aug 03:00':datum.value==48?'19 Aug 19:00':datum.value==64?'20 Aug 11:00':datum.value==80?'21 Aug 03:00':'21 Aug 19:00'","labelAlign":"left","labelFlush":false,"labelOverlap":false,"labelBound":false,"labelPadding":1,"tickSize":4,"title":null}},"y":{"datum":0.00162,"type":"quantitative","scale":{"domain":[-0.004791,0.002756],"nice":false,"zero":false},"axis":{"orient":"right","values":[0.002001,0,-0.004036],"labelExpr":"datum.value==0?'0.00':datum.value>0?'0.002001':'-0.004036'","title":null,"labelOverlap":false,"labelFlush":false,"labelBound":false,"labelFontSize":8.5}}}}
  ]
 }
]
}
